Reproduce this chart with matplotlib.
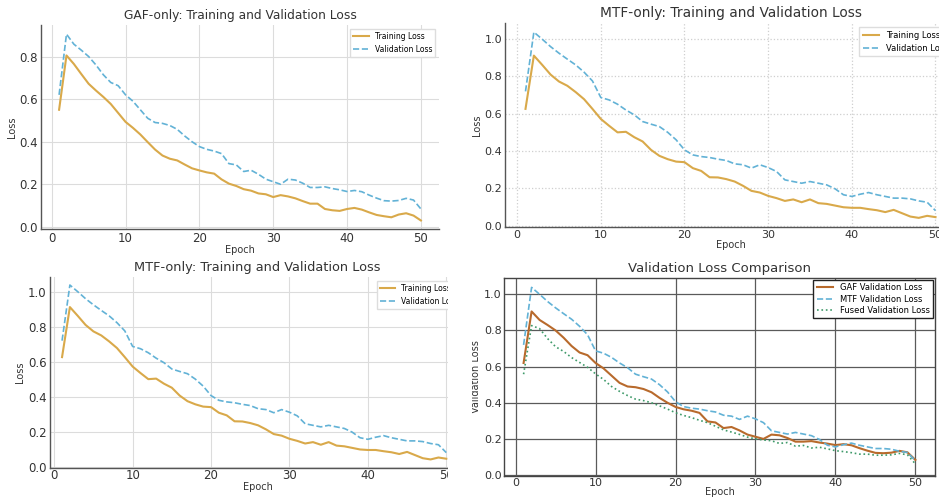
import numpy as np
import matplotlib
matplotlib.use('Agg')
import matplotlib.pyplot as plt
from matplotlib.patches import Rectangle

epochs = np.arange(1, 51)

# GAF-only run
gaf_train = [0.55, 0.805, 0.765, 0.718, 0.672, 0.64, 0.61, 0.577, 0.535, 0.493,
             0.465, 0.434, 0.398, 0.363, 0.335, 0.32, 0.312, 0.293, 0.275, 0.265,
             0.256, 0.25, 0.223, 0.203, 0.192, 0.177, 0.17, 0.157, 0.153, 0.14,
             0.149, 0.143, 0.134, 0.121, 0.109, 0.109, 0.084, 0.078, 0.075, 0.084,
             0.089, 0.081, 0.068, 0.056, 0.05, 0.045, 0.058, 0.064, 0.053, 0.03]
gaf_val = [0.62, 0.905, 0.858, 0.83, 0.8, 0.76, 0.714, 0.678, 0.663, 0.62,
           0.59, 0.55, 0.51, 0.49, 0.486, 0.476, 0.458, 0.427, 0.40, 0.377,
           0.364, 0.356, 0.344, 0.297, 0.291, 0.26, 0.266, 0.247, 0.224, 0.212,
           0.20, 0.224, 0.22, 0.205, 0.185, 0.185, 0.188, 0.18, 0.174, 0.166,
           0.171, 0.165, 0.149, 0.135, 0.123, 0.121, 0.124, 0.134, 0.126, 0.084]

# MTF-only run
mtf_train = [0.626, 0.912, 0.862, 0.81, 0.773, 0.75, 0.716, 0.678, 0.626, 0.572,
             0.535, 0.50, 0.503, 0.474, 0.451, 0.406, 0.374, 0.356, 0.343, 0.34,
             0.308, 0.293, 0.259, 0.258, 0.249, 0.236, 0.213, 0.186, 0.177, 0.159,
             0.147, 0.132, 0.14, 0.125, 0.14, 0.12, 0.116, 0.107, 0.098, 0.095,
             0.095, 0.088, 0.082, 0.072, 0.084, 0.066, 0.048, 0.041, 0.052, 0.045]
mtf_val = [0.72, 1.038, 1.0, 0.96, 0.925, 0.893, 0.862, 0.823, 0.776, 0.687,
           0.674, 0.651, 0.62, 0.594, 0.558, 0.544, 0.531, 0.50, 0.46, 0.406,
           0.379, 0.37, 0.365, 0.356, 0.349, 0.331, 0.326, 0.308, 0.326, 0.311,
           0.29, 0.245, 0.236, 0.227, 0.236, 0.227, 0.218, 0.197, 0.165, 0.156,
           0.168, 0.177, 0.165, 0.156, 0.147, 0.147, 0.143, 0.132, 0.125, 0.08]

# fused model, validation only
fused_val = [0.558, 0.827, 0.81, 0.755, 0.71, 0.684, 0.65, 0.623, 0.596, 0.56,
             0.529, 0.49, 0.463, 0.44, 0.42, 0.412, 0.40, 0.383, 0.365, 0.345,
             0.33, 0.318, 0.303, 0.29, 0.27, 0.25, 0.238, 0.225, 0.21, 0.20,
             0.194, 0.19, 0.175, 0.18, 0.16, 0.164, 0.15, 0.154, 0.145, 0.135,
             0.13, 0.124, 0.116, 0.116, 0.11, 0.11, 0.112, 0.12, 0.112, 0.062]

c_train = '#d9a94a'
c_val = '#62b2d6'
c_gaf = '#b86a2c'
c_fused = '#3f9a6a'

W, H = 939., 497.
def box(l, t, w, h):
    # pixel box -> figure fraction
    return [l/W, (H-t-h)/H, w/W, h/H]

def light_axes(ax, title, ylim, tsize, fts, gridls='-', xlo=-1.45):
    ax.set_title(title, fontsize=tsize, color='#333333', pad=4)
    ax.set_xlabel('Epoch', fontsize=7, color='#333333', labelpad=0)
    ax.set_ylabel('Loss', fontsize=7, color='#333333', labelpad=2)
    ax.grid(True, color='#dcdcdc', linestyle=gridls, linewidth=0.8)
    ax.set_axisbelow(True)
    for s in ['top', 'right']:
        ax.spines[s].set_visible(False)
    for s in ['left', 'bottom']:
        ax.spines[s].set_color('#555555')
        ax.spines[s].set_linewidth(1.0)
    ax.tick_params(labelsize=fts, colors='#333333', length=0, pad=2)
    ax.set_xticks([0, 10, 20, 30, 40, 50])
    ax.set_xlim(xlo, 52.45)
    ax.set_ylim(*ylim)

fig = plt.figure(figsize=(W/100, H/100), dpi=100)

# top left: GAF
ax1 = fig.add_axes(box(41, 25, 398, 204))
ax1.plot(epochs, gaf_train, color=c_train, lw=1.5, label='Training Loss')
ax1.plot(epochs, gaf_val, color=c_val, lw=1.2, ls='--', label='Validation Loss')
light_axes(ax1, 'GAF-only: Training and Validation Loss', (-0.01, 0.948), 8.8, 8.5)
ax1.set_yticks([0.0, 0.2, 0.4, 0.6, 0.8])
ax1.legend(loc='upper right', fontsize=5.5, framealpha=1, edgecolor='#dddddd', fancybox=False)

# top right: MTF (cut at the figure edge)
ax2 = fig.add_axes(box(505, 23, 451, 204))
ax2.plot(epochs, mtf_train, color=c_train, lw=1.5, label='Training Loss')
ax2.plot(epochs, mtf_val, color=c_val, lw=1.2, ls='--', label='Validation Loss')
light_axes(ax2, 'MTF-only: Training and Validation Loss', (-0.008, 1.087), 9.9, 8, gridls=':')
ax2.grid(True, color='#cfcfcf', linestyle=':', linewidth=0.9)
ax2.legend(loc='upper right', fontsize=6, framealpha=1, edgecolor='#dddddd', fancybox=False)

# bottom left: MTF again
ax3 = fig.add_axes(box(49.5, 277, 416, 191))
ax3.plot(epochs, mtf_train, color=c_train, lw=1.5, label='Training Loss')
ax3.plot(epochs, mtf_val, color=c_val, lw=1.2, ls='--', label='Validation Loss')
light_axes(ax3, 'MTF-only: Training and Validation Loss', (-0.008, 1.084), 9.3, 8.5, xlo=-0.6)
ax3.tick_params(axis='x', pad=0.5)
ax3.legend(loc='upper right', fontsize=5.5, framealpha=1, edgecolor='#dddddd', fancybox=False)
# the pasted copy is cropped on its right side
fig.add_artist(Rectangle((448/W, 0), 24/W, 247/H, transform=fig.transFigure,
                         facecolor='white', edgecolor='none', zorder=10))

# bottom right: comparison
ax4 = fig.add_axes(box(504, 278, 431, 198))
ax4.plot(epochs, gaf_val, color=c_gaf, lw=1.5, label='GAF Validation Loss')
ax4.plot(epochs, mtf_val, color=c_val, lw=1.2, ls='--', label='MTF Validation Loss')
ax4.plot(epochs, fused_val, color=c_fused, lw=1.2, ls=':', label='Fused Validation Loss')
ax4.set_title('Validation Loss Comparison', fontsize=9.5, color='#333333', pad=4)
ax4.set_xlabel('Epoch', fontsize=7, color='#333333', labelpad=-1)
ax4.set_ylabel('Validation Loss', fontsize=7, color='#333333', labelpad=2)
ax4.grid(True, color='#5a5a5a', linewidth=0.9)
ax4.set_axisbelow(True)
for s in ax4.spines.values():
    s.set_color('#444444')
    s.set_linewidth(1.0)
ax4.tick_params(labelsize=8, colors='#333333', length=0, pad=1.5)
ax4.set_xticks([0, 10, 20, 30, 40, 50])
ax4.set_xlim(-1.45, 52.45)
ax4.set_ylim(-0.005, 1.09)
ax4.legend(loc='upper right', fontsize=6, framealpha=1, edgecolor='#222222', fancybox=False,
           borderaxespad=0.2, labelspacing=0.3)

fig.savefig('out.png', dpi=100)
